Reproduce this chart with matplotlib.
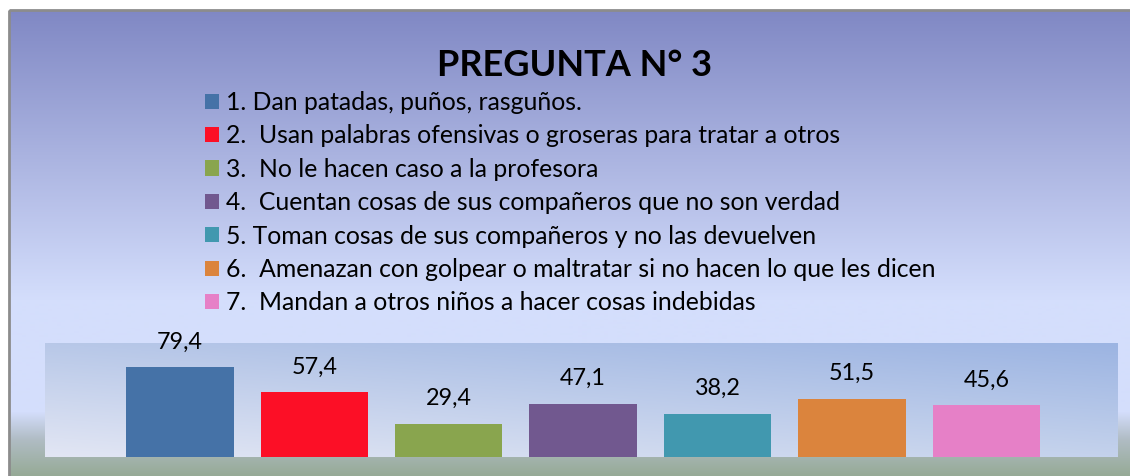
import numpy as np
import matplotlib
matplotlib.use('Agg')
import matplotlib.pyplot as plt
from matplotlib.patches import Rectangle

plt.rcParams['font.family'] = ['Lato', 'DejaVu Sans']

# Data
labels = [
    '1. Dan patadas, puños, rasguños.',
    '2.  Usan palabras ofensivas o groseras para tratar a otros',
    '3.  No le hacen caso a la profesora',
    '4.  Cuentan cosas de sus compañeros que no son verdad',
    '5. Toman cosas de sus compañeros y no las devuelven',
    '6.  Amenazan con golpear o maltratar si no hacen lo que les dicen',
    '7.  Mandan a otros niños a hacer cosas indebidas',
]
values = [79.4, 57.4, 29.4, 47.1, 38.2, 51.5, 45.6]
colors = ['#4572A7', '#FC0F26', '#89A54E', '#71588F', '#4198AF', '#DB843D', '#E680C7']
title = 'PREGUNTA N° 3'

W, H = 1130, 476
fig = plt.figure(figsize=(W / 100, H / 100), dpi=100)
fig.patch.set_facecolor('white')

# background of the chart box (vertical gradient)
bg = fig.add_axes([0, 0, 1, 1], zorder=-10)
bg.set_xlim(0, W)
bg.set_ylim(H, 0)
bg.axis('off')
ys = np.arange(10, H + 1)
stops_y = [10, 300, 412, 440, 476]
stops_c = np.array([[128, 136, 196], [212, 222, 252], [212, 222, 252],
                    [176, 188, 196], [150, 170, 150]]) / 255.0
grad = np.stack([np.interp(ys, stops_y, stops_c[:, k]) for k in range(3)], axis=-1)
grad = grad[:, None, :]
bg.imshow(grad, extent=[9, W, H, 10], aspect='auto', interpolation='bilinear')
bg.add_patch(Rectangle((9, 10), W + 5, H, fill=False, edgecolor='#8C8C8C', linewidth=2))

# plot area
ax = fig.add_axes([45 / W, (H - 457) / H, 1073 / W, 114 / H])
ax.set_xlim(-1.004, 6.98)
ax.set_ylim(0, 100.5)
tl = np.array([184, 200, 232]) / 255.0
tr = np.array([156, 180, 226]) / 255.0
bl = np.array([226, 230, 244]) / 255.0
br = np.array([196, 210, 236]) / 255.0
u = np.linspace(0, 1, 200)[None, :, None]
v = np.linspace(0, 1, 60)[:, None, None]
area = (1 - v) * ((1 - u) * tl + u * tr) + v * ((1 - u) * bl + u * br)
ax.imshow(area, extent=[-1.004, 6.98, 0, 100.5], aspect='auto', zorder=0,
          interpolation='bilinear')

x = np.arange(len(values))
bars = ax.bar(x, values, width=0.80, color=colors, zorder=2)
for xi, val in zip(x, values):
    ax.annotate(f'{val:.1f}'.replace('.', ','), (xi, val), xytext=(0, 13.3),
                textcoords='offset points', ha='center', va='baseline',
                fontsize=16.8, color='black', zorder=3)
ax.axis('off')

fig.text(575 / W, 1 - 65 / H, title, ha='center', va='center',
         fontsize=26, fontweight='bold', color='black')

fig.legend(bars.patches, labels, loc='upper left',
           bbox_to_anchor=(205 / W, 1 - 91 / H), frameon=False,
           fontsize=17.8, handlelength=0.58, handleheight=0.58,
           handletextpad=0.26, labelspacing=0.42, borderpad=0, borderaxespad=0)

fig.savefig('out.png', dpi=100)
